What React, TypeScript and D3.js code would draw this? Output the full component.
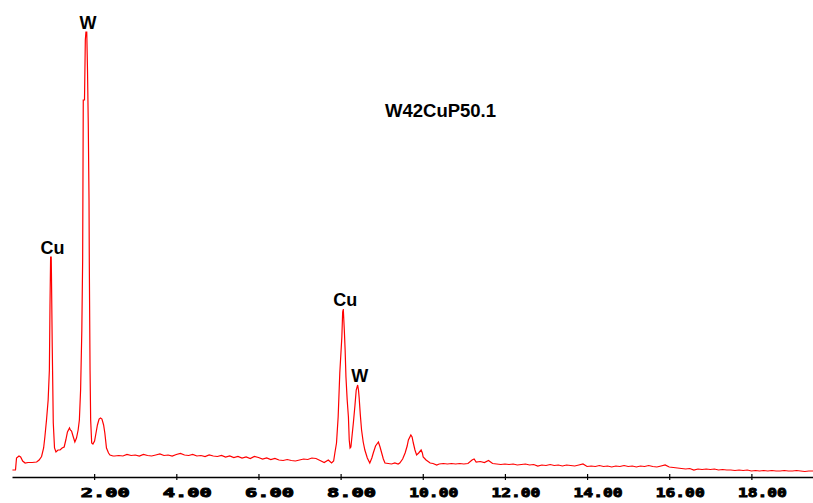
import React, { useEffect, useRef } from 'react';
import * as d3 from 'd3';

// EDS spectrum, energy in keV, counts
const energy = [
  0.01, 0.085, 0.11, 0.17, 0.21, 0.26, 0.32, 0.39, 0.49, 0.6, 0.66, 0.72, 0.77, 0.8, 0.84, 0.88, 0.91, 0.925, 0.94, 0.955,
  0.96, 0.98, 1.005, 1.035, 1.07, 1.12, 1.17, 1.22, 1.27, 1.31, 1.35, 1.4, 1.42, 1.45, 1.485, 1.53, 1.57, 1.61, 1.64, 1.67,
  1.7, 1.72, 1.735, 1.765, 1.785, 1.8, 1.82, 1.838, 1.857, 1.875, 1.882, 1.9, 1.915, 1.94, 1.97, 2.01, 2.045, 2.08, 2.12, 2.155,
  2.19, 2.23, 2.26, 2.3, 2.35, 2.385, 2.46,
  2.5, 2.6, 2.7, 2.8, 2.9, 3.0, 3.1, 3.2, 3.3, 3.4, 3.5, 3.6, 3.7, 3.8, 3.9, 4.0, 4.1, 4.2, 4.3, 4.4, 4.5, 4.6, 4.7, 4.8,
  4.9, 5.0, 5.1, 5.2, 5.3, 5.4, 5.5, 5.6, 5.7, 5.8, 5.9, 6.0, 6.1, 6.2, 6.3, 6.4, 6.5, 6.6, 6.7, 6.8, 6.9, 7.0, 7.1, 7.2,
  7.3, 7.4, 7.5, 7.6, 7.7, 7.78,
  7.83, 7.86, 7.9, 7.94, 7.98, 8.03, 8.05, 8.065, 8.09, 8.11, 8.13, 8.16, 8.19, 8.21, 8.23, 8.25, 8.28, 8.31, 8.35, 8.38,
  8.415, 8.435, 8.45, 8.48, 8.51, 8.55, 8.59, 8.65, 8.71, 8.76, 8.795, 8.85, 8.92, 8.96, 9.0, 9.04, 9.08, 9.16, 9.24, 9.32,
  9.4, 9.44, 9.51, 9.57, 9.62, 9.65, 9.71, 9.74, 9.77, 9.81, 9.85, 9.9, 9.96, 9.99, 10.01, 10.08, 10.18, 10.25, 10.34,
  10.4, 10.5, 10.6, 10.7, 10.8, 10.9, 11.0, 11.1, 11.2, 11.25, 11.3, 11.4, 11.5, 11.6, 11.7, 11.8, 11.9, 12.0, 12.1, 12.2,
  12.3, 12.4, 12.5, 12.6, 12.7, 12.8, 12.9, 13.0, 13.1, 13.2, 13.3, 13.4, 13.5, 13.6, 13.7, 13.8, 13.9, 14.0, 14.1, 14.2,
  14.3, 14.4, 14.5, 14.6, 14.7, 14.8, 14.9, 15.0, 15.1, 15.2, 15.3, 15.4, 15.5, 15.6, 15.7, 15.8, 15.9, 16.0, 16.1, 16.2,
  16.3, 16.4, 16.5, 16.6, 16.7, 16.8, 16.9, 17.0, 17.1, 17.2, 17.3, 17.4, 17.5, 17.6, 17.7, 17.8, 17.9, 18.0, 18.1, 18.2,
  18.3, 18.4, 18.5, 18.6, 18.7, 18.8, 18.9, 19.0, 19.1, 19.2, 19.3, 19.4, 19.5
];

const counts = [
  14, 14, 38, 42, 40, 32, 28, 29, 29, 30, 34, 41, 58, 80, 114, 154, 214, 344, 440, 440,
  408, 260, 108, 58, 50, 54, 54, 58, 60, 74, 90, 98, 94, 92, 82, 70, 78, 94, 114, 174,
  294, 434, 754, 754, 874, 890, 890, 814, 704, 554, 430, 214, 114, 68, 66, 72, 88, 104, 116, 118,
  116, 104, 88, 58, 48, 44, 42,
  42, 43, 42, 45, 43, 44, 42, 45, 43, 42, 44, 46, 43, 44, 42, 45, 47, 44, 43, 45, 42, 43, 41, 44,
  42, 41, 43, 40, 42, 39, 41, 38, 40, 37, 41, 39, 36, 38, 35, 37, 34, 33, 35, 33, 32, 34, 36, 35,
  38, 37, 33, 29, 34, 28,
  32, 48, 68, 120, 208, 280, 330, 336, 294, 254, 200, 154, 120, 74, 58, 60, 84, 108, 144, 174,
  184, 174, 160, 124, 94, 70, 54, 38, 28, 38, 48, 62, 70, 60, 48, 36, 28, 27, 26, 28,
  26, 28, 36, 48, 62, 74, 84, 80, 68, 54, 44, 48, 54, 48, 40, 34, 28, 27, 24,
  26, 27, 26, 27, 26, 27, 26, 27, 34, 36, 30, 31, 29, 33, 27, 26, 25, 26, 25, 26,
  24, 25, 26, 24, 25, 22, 24, 23, 25, 23, 24, 22, 24, 23, 22, 24, 26, 21, 22, 21,
  23, 21, 22, 20, 22, 21, 23, 21, 22, 20, 22, 21, 23, 21, 20, 22, 24, 20, 19, 18,
  17, 16, 17, 14, 16, 15, 16, 15, 16, 14, 15, 14, 14, 13, 14, 13, 14, 12, 13, 12,
  13, 12, 13, 12, 12, 13, 12, 12, 13, 12, 11, 12, 12
];

const tickValues = [2, 4, 6, 8, 10, 12, 14, 16, 18];

const peakNames = ['Cu', 'W', 'Cu', 'W'];
const peakEnergies = [0.94, 1.8, 8.065, 8.415];
const peakCounts = [440, 890, 336, 184];

const sampleName = 'W42CuP50.1';

const W = 813;
const H = 503;

export default function App() {
  const ref = useRef<SVGSVGElement>(null);

  useEffect(() => {
    const svg = d3.select(ref.current);
    svg.selectAll('*').remove();

    const x = d3.scaleLinear().domain([0, 19.5]).range([12, 813]);
    const y = d3.scaleLinear().domain([0, 900]).range([477, 27]);

    const data = energy.map((e, i) => [e, counts[i]] as [number, number]);

    svg.append('path')
      .datum(data)
      .attr('fill', 'none')
      .attr('stroke', '#ff0000')
      .attr('stroke-width', 1.2)
      .attr('d', d3.line<[number, number]>()
        .x(d => x(d[0]))
        .y(d => y(d[1])));

    const axis = svg.append('g')
      .attr('transform', 'translate(0,477)')
      .call(d3.axisBottom(x)
        .tickValues(tickValues)
        .tickFormat(d3.format('.2f'))
        .tickSizeOuter(0)
        .tickSizeInner(3));

    axis.select('.domain').attr('stroke', '#000').attr('stroke-width', 1.6);
    axis.selectAll('.tick line').attr('y1', -3).attr('y2', 3).attr('stroke', '#000').attr('stroke-width', 1.2);
    // chunky bitmap-like labels
    axis.selectAll('.tick text')
      .attr('y', 20)
      .attr('dy', 0)
      .attr('x', -14)
      .attr('text-anchor', 'start')
      .attr('fill', '#000')
      .attr('stroke', '#000')
      .attr('stroke-width', 0.9)
      .attr('font-family', 'DejaVu Sans Mono')
      .attr('font-weight', 'bold')
      .attr('font-size', 12.5)
      .attr('textLength', 49)
      .attr('lengthAdjust', 'spacingAndGlyphs');

    svg.append('g')
      .selectAll('text')
      .data(peakNames)
      .enter().append('text')
        .attr('x', (d, i) => x(peakEnergies[i]) + 2)
        .attr('y', (d, i) => y(peakCounts[i]) - 3)
        .attr('text-anchor', 'middle')
        .attr('font-family', 'Liberation Sans, Arial, sans-serif')
        .attr('font-weight', 'bold')
        .attr('font-size', 18)
        .attr('fill', '#000')
        .text(d => d);

    svg.append('text')
      .attr('x', 385)
      .attr('y', 117)
      .attr('font-family', 'Liberation Sans, Arial, sans-serif')
      .attr('font-weight', 'bold')
      .attr('font-size', 18.5)
      .attr('fill', '#000')
      .text(sampleName);
  }, []);

  return (
    <svg
      ref={ref}
      width={W}
      height={H}
      style={{ position: 'absolute', left: 0, top: 0, background: '#fff' }}
    />
  );
}
